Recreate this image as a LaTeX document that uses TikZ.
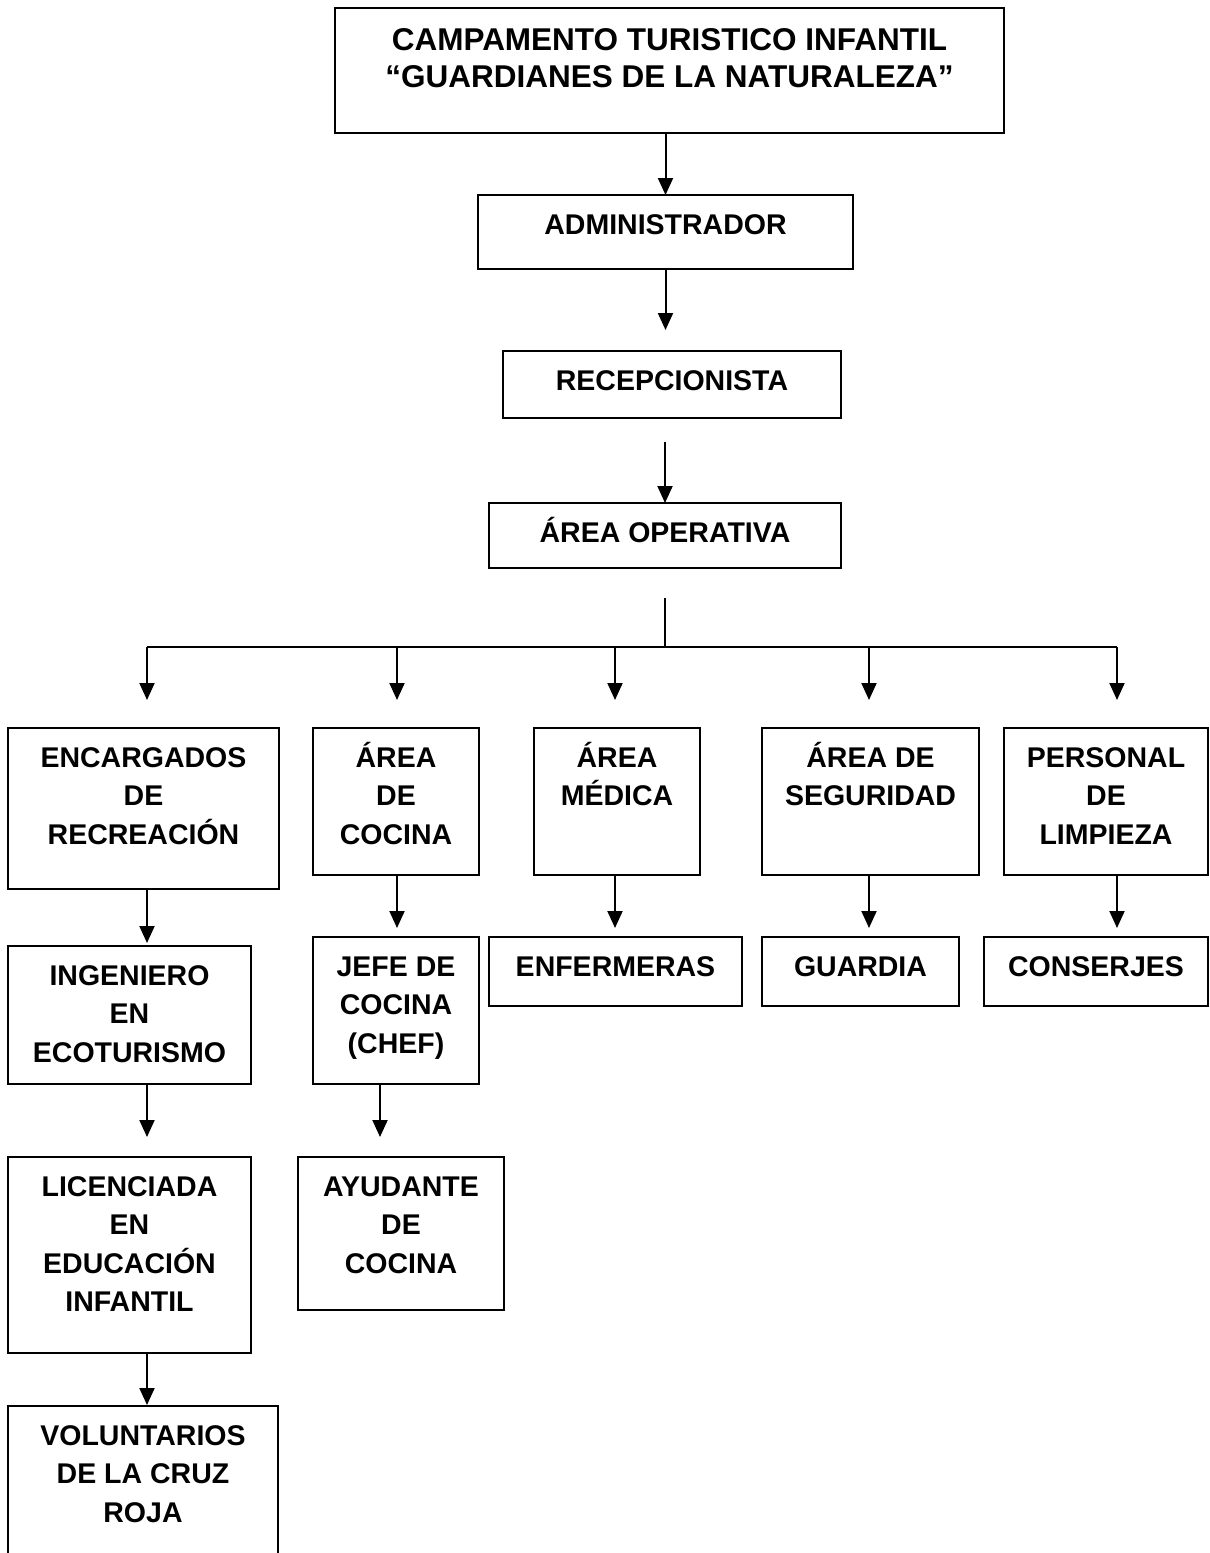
\documentclass[tikz,border=0pt]{standalone}
\usepackage{fontspec}
\setmainfont{Liberation Sans}
\usetikzlibrary{arrows.meta,calc}
% strut that fixes the first baseline of every label
\newcommand{\lstrut}{\rule{0pt}{34pt}}

\begin{document}
\begin{tikzpicture}[x=1pt,y=-1pt,
  box/.style={draw,line width=2pt,inner sep=0pt,outer sep=0pt,anchor=north west},
  lbl/.style={font=\bfseries\fontsize{28.5}{38.5}\selectfont,align=center,anchor=north,inner sep=0pt},
  conn/.style={line width=2pt},
  arr/.style={line width=2pt,-{Triangle[length=17pt,width=15pt]}}]
\useasboundingbox (0,0) rectangle (1210,1553);
\clip (0,0) rectangle (1210,1553);
% head of the chart
\node[box,minimum width=669pt,minimum height=125pt] (top) at (335,8) {};
\node[lbl,font=\bfseries\fontsize{31.5}{37}\selectfont] (top-t) at ($(top.north)+(0,8)$)
  {\lstrut CAMPAMENTO TURISTICO INFANTIL\\“GUARDIANES DE LA NATURALEZA”};
\node[box,minimum width=375pt,minimum height=74pt] (adm) at (478,195) {};
\node[lbl] (adm-t) at ($(adm.north)+(0,5)$) {\lstrut ADMINISTRADOR};
\node[box,minimum width=338pt,minimum height=67pt] (rec) at (503,351) {};
\node[lbl] (rec-t) at ($(rec.north)+(0,5)$) {\lstrut RECEPCIONISTA};
\node[box,minimum width=352pt,minimum height=65pt] (ope) at (489,503) {};
\node[lbl] (ope-t) at ($(ope.north)+(0,5)$) {\lstrut ÁREA OPERATIVA};
% areas
\node[box,minimum width=271pt,minimum height=161pt] (enc) at (8,728) {};
\node[lbl] (enc-t) at ($(enc.north)+(0,5)$) {\lstrut ENCARGADOS\\DE\\RECREACIÓN};
\node[box,minimum width=166pt,minimum height=147pt] (coc) at (313,728) {};
\node[lbl] (coc-t) at ($(coc.north)+(0,5)$) {\lstrut ÁREA\\DE\\COCINA};
\node[box,minimum width=166pt,minimum height=147pt] (med) at (534,728) {};
\node[lbl] (med-t) at ($(med.north)+(0,5)$) {\lstrut ÁREA\\MÉDICA};
\node[box,minimum width=217pt,minimum height=147pt] (seg) at (762,728) {};
\node[lbl] (seg-t) at ($(seg.north)+(0,5)$) {\lstrut ÁREA DE\\SEGURIDAD};
\node[box,minimum width=204pt,minimum height=147pt] (per) at (1004,728) {};
\node[lbl] (per-t) at ($(per.north)+(0,5)$) {\lstrut PERSONAL\\DE\\LIMPIEZA};
% staff
\node[box,minimum width=243pt,minimum height=138pt] (ing) at (8,946) {};
\node[lbl] (ing-t) at ($(ing.north)+(0,5)$) {\lstrut INGENIERO\\EN\\ECOTURISMO};
\node[box,minimum width=166pt,minimum height=147pt] (jef) at (313,937) {};
\node[lbl] (jef-t) at ($(jef.north)+(0,5)$) {\lstrut JEFE DE\\COCINA\\(CHEF)};
\node[box,minimum width=253pt,minimum height=69pt] (enf) at (489,937) {};
\node[lbl] (enf-t) at ($(enf.north)+(0,5)$) {\lstrut ENFERMERAS};
\node[box,minimum width=197pt,minimum height=69pt] (gua) at (762,937) {};
\node[lbl] (gua-t) at ($(gua.north)+(0,5)$) {\lstrut GUARDIA};
\node[box,minimum width=224pt,minimum height=69pt] (con) at (984,937) {};
\node[lbl] (con-t) at ($(con.north)+(0,5)$) {\lstrut CONSERJES};
\node[box,minimum width=243pt,minimum height=196pt] (lic) at (8,1157) {};
\node[lbl] (lic-t) at ($(lic.north)+(0,5)$) {\lstrut LICENCIADA\\EN\\EDUCACIÓN\\INFANTIL};
\node[box,minimum width=206pt,minimum height=153pt] (ayu) at (298,1157) {};
\node[lbl] (ayu-t) at ($(ayu.north)+(0,5)$) {\lstrut AYUDANTE\\DE\\COCINA};
\node[box,minimum width=270pt,minimum height=200pt] (vol) at (8,1406) {};
\node[lbl] (vol-t) at ($(vol.north)+(0,5)$) {\lstrut VOLUNTARIOS\\DE LA CRUZ\\ROJA};
% arrows down the middle
\draw[arr] (adm.north |- top.south) -- (adm.north);
\draw[arr] (adm.south) -- ($(adm.south |- rec.north)+(0,-21)$);
\draw[arr] ($(ope.north |- rec.south)+(0,24)$) -- (ope.north);
% branch line
\coordinate (bus) at (665,647);
\draw[conn] ($(ope.south)+(0,30)$) -- (bus);
\foreach \n/\dx in {enc/147,coc/397,med/615,seg/869,per/1117}{
  \coordinate (d-\n) at (\dx,647);
  \draw[arr] (d-\n) -- ($(d-\n |- \n.north)+(0,-28)$);
}
\draw[conn] (d-enc) -- (d-per);
% arrows in the columns
\draw[arr] (d-enc |- enc.south) -- ($(d-enc |- ing.north)+(0,-3)$);
\draw[arr] (d-enc |- ing.south) -- ($(d-enc |- lic.north)+(0,-20)$);
\draw[arr] (d-enc |- lic.south) -- ($(d-enc |- vol.north)+(0,-1)$);
\draw[arr] (d-coc |- coc.south) -- ($(d-coc |- jef.north)+(0,-9)$);
\draw[arr] ($(d-coc |- jef.south)+(-17,0)$) -- ($(d-coc |- ayu.north)+(-17,-20)$);
\draw[arr] (d-med |- med.south) -- ($(d-med |- enf.north)+(0,-9)$);
\draw[arr] (d-seg |- seg.south) -- ($(d-seg |- gua.north)+(0,-9)$);
\draw[arr] (d-per |- per.south) -- ($(d-per |- con.north)+(0,-9)$);
\end{tikzpicture}
\end{document}
